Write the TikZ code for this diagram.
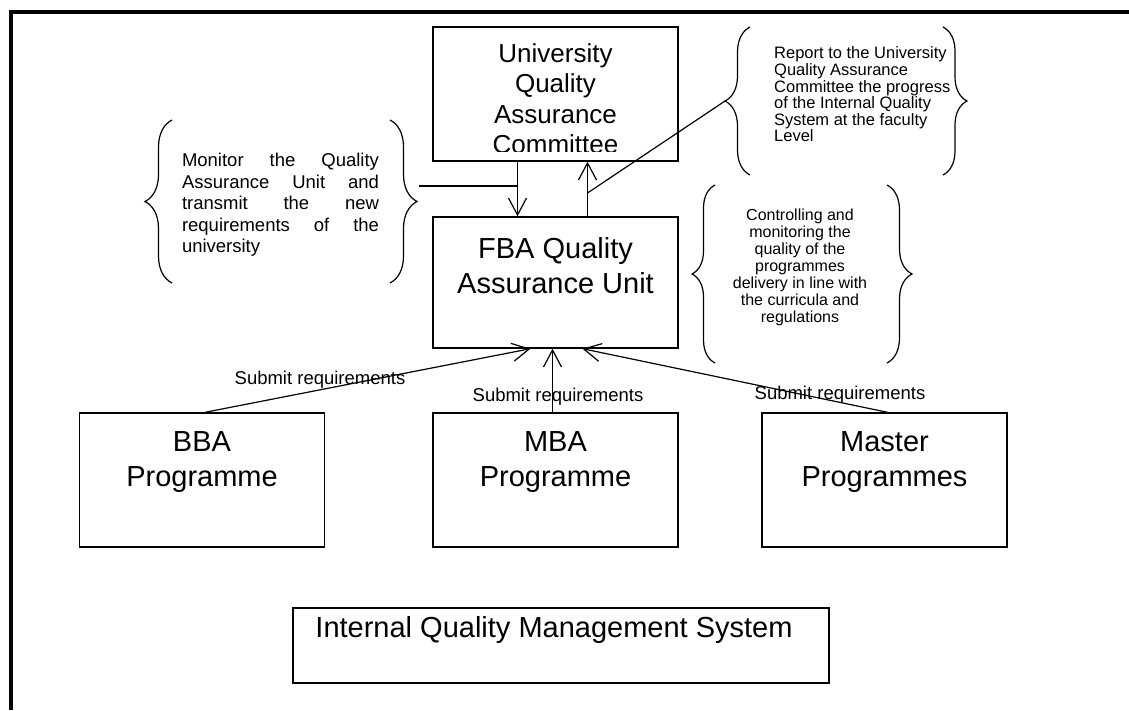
\documentclass[tikz,border=0pt]{standalone}
\usepackage{fontspec}
\setmainfont{Liberation Sans}
\usetikzlibrary{arrows.meta,decorations.pathreplacing}
\begin{document}
\begin{tikzpicture}[x=1pt,y=-1pt,
                >={Straight Barb[length=17pt,width=18pt]},
                box/.style={draw,line width=1.4pt,inner sep=0pt,minimum width=245pt,minimum height=134pt},
                bigtext/.style={font=\fontsize{29}{35}\selectfont,align=center,inner sep=0pt},
                lbl/.style={font=\fontsize{18.5}{21.5}\selectfont,inner sep=0pt},
                note/.style={font=\fontsize{16.5}{16.6}\selectfont,inner sep=0pt},
                curly/.style={decorate,decoration={brace,amplitude=#1},line width=1.2pt},
                conn/.style={line width=1.2pt}]
                \useasboundingbox (0,0) rectangle (1129,710);
                \draw[line width=3.2pt] (11,710) -- (11,12) -- (1129,12); % marco
                % cajas
                \node[box] (uqac) at (555.5,94) {};
                \begin{scope}
                \clip (uqac.north west) rectangle ([yshift=10pt]uqac.south east);
                \node[bigtext,font=\fontsize{26}{30.5}\selectfont] (uqactext) at (555.5,98.5) {University\\Quality\\Assurance\\Committee};
                \end{scope}
                \node[box,minimum height=131pt] (fba) at (555.5,282.5) {};
                \node[bigtext] (fbatext) at (555.5,266) {FBA Quality\\Assurance Unit};
                \node[box] (bba) at (202,480) {};
                \node[bigtext] (bbatext) at (202,462) {BBA\\Programme};
                \node[box] (mba) at (555.5,480) {};
                \node[bigtext] (mbatext) at (555.5,462) {MBA\\Programme};
                \node[box] (master) at (884.5,480) {};
                \node[bigtext] (mastertext) at (884.5,462) {Master\\Programmes};
                \node[box,minimum width=536pt,minimum height=75pt] (iqms) at (561,645.5) {};
                \node[bigtext] (iqmstext) at (554,630) {Internal Quality Management System};
                % llaves con notas
                \node[lbl,text width=197pt,align=justify] (monitor) at (280.5,205) {Monitor the Quality\linebreak Assurance Unit and\linebreak transmit the new\linebreak requirements of the\linebreak university};
                \draw[curly=27pt] (172,283) -- (172,120);
                \draw[curly=27pt] (390,120) -- (390,283);
                \node[note,align=left,anchor=west] (report) at (774,94.4) {Report to the University\\Quality Assurance\\Committee the progress\\of the Internal Quality\\System at the faculty\\Level};
                \draw[curly=25pt] (750,175) -- (750,27);
                \draw[curly=24pt] (943,27) -- (943,175);
                \node[note,font=\fontsize{16}{17}\selectfont,align=center] (control) at (800,267.5) {Controlling and\\monitoring the\\quality of the\\programmes\\delivery in line with\\the curricula and\\regulations};
                \draw[curly=23pt] (715,363) -- (715,185);
                \draw[curly=25pt] (887,185) -- (887,363);
                % flechas
                \coordinate (mline) at (419,186);
                \coordinate (rjoin) at (587.5,193);
                \coordinate (rtip) at (725,101);
                \draw[conn,->] ([xshift=-38pt]uqac.south) coordinate (down) -- ([xshift=-38pt]fba.north);
                \draw[conn] (mline) -- (mline -| down);
                \draw[conn,->] ([xshift=32pt]fba.north) -- ([xshift=32pt]uqac.south);
                \draw[conn] (rjoin) -- (rtip);
                \draw[conn,->] ([xshift=3pt]bba.north) -- ([xshift=-25pt]fba.south);
                \draw[conn,->] ([xshift=-3pt]mba.north) -- ([xshift=-3pt]fba.south);
                \draw[conn,->] ([xshift=3pt]master.north) -- ([xshift=27pt]fba.south);
                \node[lbl] (subl) at (320,380) {Submit requirements};
                \node[lbl] (subm) at (558,397) {Submit requirements};
                \node[lbl] (subr) at (840,395) {Submit requirements};
\end{tikzpicture}
\end{document}
